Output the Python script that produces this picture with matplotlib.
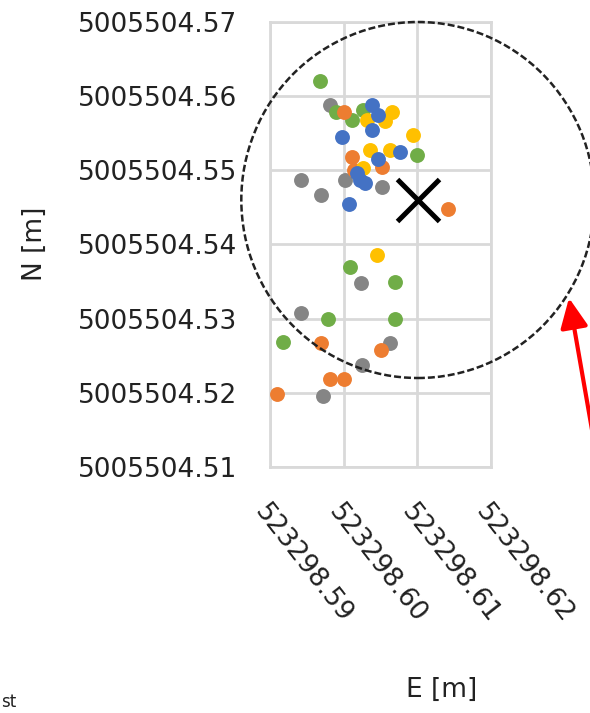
import matplotlib
matplotlib.use('Agg')
import matplotlib.pyplot as plt
from matplotlib.patches import Circle

# point clouds per series (E, N)
gray_e = [523298.5982, 523298.5942, 523298.5970, 523298.6002, 523298.6052, 523298.6024, 523298.5942, 523298.6063, 523298.6025, 523298.5972]
gray_n = [5005504.5588, 5005504.5487, 5005504.5467, 5005504.5487, 5005504.5478, 5005504.5348, 5005504.5307, 5005504.5267, 5005504.5238, 5005504.5196]
green_e = [523298.5968, 523298.5990, 523298.6011, 523298.6027, 523298.6100, 523298.6009, 523298.6070, 523298.5979, 523298.6070, 523298.5918]
green_n = [5005504.5620, 5005504.5579, 5005504.5568, 5005504.5581, 5005504.5521, 5005504.5370, 5005504.5349, 5005504.5299, 5005504.5299, 5005504.5268]
orange_e = [523298.6001, 523298.6011, 523298.6052, 523298.6014, 523298.6142, 523298.5970, 523298.6051, 523298.5982, 523298.6000, 523298.5909]
orange_n = [5005504.5579, 5005504.5518, 5005504.5505, 5005504.5501, 5005504.5448, 5005504.5267, 5005504.5258, 5005504.5218, 5005504.5218, 5005504.5199]
yellow_e = [523298.6066, 523298.6056, 523298.6032, 523298.6095, 523298.6036, 523298.6063, 523298.6027, 523298.6045]
yellow_n = [5005504.5579, 5005504.5566, 5005504.5568, 5005504.5548, 5005504.5528, 5005504.5528, 5005504.5503, 5005504.5386]
blue_e = [523298.6038, 523298.6047, 523298.6038, 523298.5998, 523298.6077, 523298.6047, 523298.6018, 523298.6022, 523298.6029, 523298.6008]
blue_n = [5005504.5588, 5005504.5575, 5005504.5555, 5005504.5545, 5005504.5525, 5005504.5515, 5005504.5496, 5005504.5487, 5005504.5483, 5005504.5455]

center_e = 523298.6101
center_n = 5005504.5460
radius = 0.024

xticks = [523298.59, 523298.60, 523298.61, 523298.62]
xlabels = ['523298.59', '523298.60', '523298.61', '523298.62']
yticks = [5005504.51, 5005504.52, 5005504.53, 5005504.54, 5005504.55, 5005504.56, 5005504.57]
ylabels = ['5005504.51', '5005504.52', '5005504.53', '5005504.54', '5005504.55', '5005504.56', '5005504.57']

plt.rcParams['font.family'] = ['DejaVu Sans']

fig = plt.figure(figsize=(5.9, 7.13), dpi=100)
ax = fig.add_axes([270/590, 1 - 467/713, 220.7/590, 445/713])

ax.scatter(gray_e, gray_n, s=115, color='#858585', linewidths=0, zorder=3)
ax.scatter(green_e, green_n, s=115, color='#70AD47', linewidths=0, zorder=3)
ax.scatter(orange_e, orange_n, s=115, color='#ED7D31', linewidths=0, zorder=3)
ax.scatter(yellow_e, yellow_n, s=115, color='#FFC000', linewidths=0, zorder=3)
ax.scatter(blue_e, blue_n, s=115, color='#4472C4', linewidths=0, zorder=3)

ax.plot([center_e], [center_n], marker='x', markersize=30, mew=3.6, color='black', zorder=4)
ax.add_patch(Circle((center_e, center_n), radius, fill=False, edgecolor='#222222',
                    lw=1.8, linestyle=(0, (2.8, 1.2)), clip_on=False, zorder=5))

ax.set_xlim(xticks[0], xticks[-1])
ax.set_ylim(yticks[0], yticks[-1])
ax.set_xticks(xticks)
ax.set_xticklabels(xlabels, rotation=-52, ha='left', va='top', rotation_mode='anchor')
ax.set_yticks(yticks)
ax.set_yticklabels(ylabels)
ax.tick_params(length=0, pad=23.5, labelsize=19, labelcolor='#222222')
ax.grid(True, color='#d9d9d9', lw=2)
ax.set_axisbelow(True)
for s in ax.spines.values():
    s.set_color('#d9d9d9')
    s.set_linewidth(2)

fig.text(35/590, 1 - 244/713, 'N [m]', rotation=90, ha='center', va='center', fontsize=19, color='#222222')
fig.text(442/590, 1 - 690/713, 'E [m]', ha='center', va='center', fontsize=19, color='#222222')
fig.text(1/590, 2/713, 'st', ha='left', va='bottom', fontsize=12, color='#222222')

ax.annotate('', xy=(569, 713 - 298), xycoords='figure pixels',
            xytext=(606, 713 - 510), textcoords='figure pixels',
            arrowprops=dict(arrowstyle='-|>,head_length=0.9,head_width=0.42', color='red',
                            lw=3, mutation_scale=20, shrinkA=0, shrinkB=0))

fig.savefig('out.png', dpi=100)
